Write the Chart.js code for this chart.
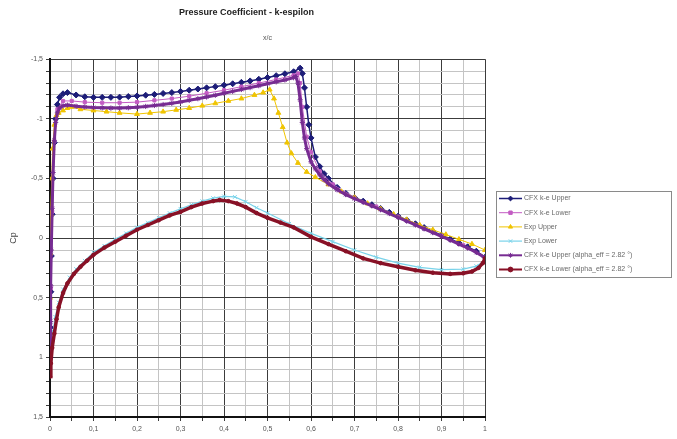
<!DOCTYPE html>
<html lang="en">
<head>
    <meta charset="UTF-8">
    <title>Pressure Coefficient - k-espilon</title>
    <script src="https://cdn.jsdelivr.net/npm/chart.js"></script>
    <style>
        body {
            margin: 0;
            background: #fff;
        }

        .chart-box {
            width: 677px;
            height: 439px;
        }
    </style>
</head>
<body>
<div class="chart-box">
    <canvas id="cpChart"></canvas>
</div>

<script>
    // Подписи серий
    const seriesLabels = [
        'CFX k-e Upper',
        'CFX k-e Lower',
        'Exp Upper',
        'Exp Lower',
        'CFX k-e Upper (alpha_eff = 2.82 °)',
        'CFX k-e Lower (alpha_eff = 2.82 °)'
    ];

    // Подписи осей
    const xTickValues = [0, 0.1, 0.2, 0.3, 0.4, 0.5, 0.6, 0.7, 0.8, 0.9, 1];
    const xTickLabels = ['0', '0,1', '0,2', '0,3', '0,4', '0,5', '0,6', '0,7', '0,8', '0,9', '1'];
    const yTickValues = [-1.5, -1, -0.5, 0, 0.5, 1, 1.5];
    const yTickLabels = ['-1,5', '-1', '-0,5', '0', '0,5', '1', '1,5'];

    // CFX k-e Upper
    const xKeUpper = [0, 0.001, 0.002, 0.003, 0.005, 0.007, 0.01, 0.013, 0.017, 0.022, 0.03, 0.04, 0.06, 0.08, 0.1,
        0.12, 0.14, 0.16, 0.18, 0.2, 0.22, 0.24, 0.26, 0.28, 0.3, 0.32, 0.34, 0.36, 0.38, 0.4, 0.42, 0.44, 0.46, 0.48, 0.5,
        0.52, 0.54, 0.56, 0.575, 0.58, 0.585, 0.59, 0.595, 0.6, 0.61, 0.62, 0.63, 0.64, 0.66, 0.68, 0.7, 0.72, 0.74, 0.76,
        0.78, 0.8, 0.82, 0.84, 0.86, 0.88, 0.9, 0.92, 0.94, 0.96, 0.98, 1.0];
    const cpKeUpper = [1.0, 0.75, 0.45, 0.15, -0.2, -0.5, -0.8, -1.0, -1.12, -1.18, -1.21, -1.22, -1.2, -1.185, -1.18,
        -1.18, -1.18, -1.182, -1.187, -1.192, -1.198, -1.205, -1.213, -1.22, -1.23, -1.24, -1.25, -1.26, -1.27, -1.282,
        -1.294, -1.306, -1.318, -1.332, -1.346, -1.362, -1.378, -1.395, -1.425, -1.38, -1.26, -1.1, -0.95, -0.84, -0.68,
        -0.6, -0.54, -0.5, -0.425, -0.375, -0.34, -0.31, -0.28, -0.248, -0.216, -0.184, -0.152, -0.12, -0.088, -0.056,
        -0.024, 0.008, 0.04, 0.073, 0.11, 0.16];

    // CFX k-e Lower
    const xKeLower = [0, 0.002, 0.005, 0.01, 0.017, 0.03, 0.05, 0.08, 0.12, 0.16, 0.2, 0.24, 0.28, 0.32, 0.36, 0.4,
        0.44, 0.48, 0.52, 0.56, 0.57, 0.575, 0.58, 0.59, 0.6, 0.62, 0.65, 0.7, 0.75, 0.8, 0.85, 0.9, 0.95, 1.0];
    const cpKeLower = [1.0, 0.42, -0.22, -0.81, -1.08, -1.15, -1.15, -1.14, -1.135, -1.135, -1.14, -1.155, -1.17, -1.19,
        -1.215, -1.24, -1.27, -1.3, -1.33, -1.365, -1.38, -1.3, -1.1, -0.85, -0.72, -0.56, -0.45, -0.34, -0.265, -0.18,
        -0.1, -0.02, 0.06, 0.165];

    // Exp Upper
    const xExpUpper = [0, 0.001, 0.002, 0.004, 0.006, 0.01, 0.015, 0.02, 0.03, 0.04, 0.05, 0.07, 0.1, 0.13, 0.16, 0.2,
        0.23, 0.26, 0.29, 0.32, 0.35, 0.38, 0.41, 0.44, 0.47, 0.49, 0.505, 0.515, 0.525, 0.535, 0.545, 0.555, 0.57, 0.59,
        0.61, 0.64, 0.67, 0.7, 0.73, 0.76, 0.79, 0.82, 0.85, 0.88, 0.91, 0.94, 0.97, 1.0];
    const cpExpUpper = [0.5, 0.13, -0.2, -0.5, -0.75, -0.95, -1.03, -1.05, -1.07, -1.09, -1.1, -1.08, -1.07, -1.06,
        -1.05, -1.04, -1.05, -1.06, -1.075, -1.09, -1.11, -1.13, -1.15, -1.17, -1.2, -1.22, -1.245, -1.17, -1.05, -0.93,
        -0.8, -0.71, -0.63, -0.555, -0.51, -0.45, -0.39, -0.34, -0.29, -0.245, -0.2, -0.155, -0.11, -0.07, -0.03, 0.01,
        0.05, 0.1];

    // Exp Lower
    const xExpLower = [0, 0.003, 0.007, 0.012, 0.02, 0.03, 0.045, 0.06, 0.08, 0.1, 0.125, 0.15, 0.175, 0.2, 0.225, 0.25,
        0.275, 0.3, 0.325, 0.35, 0.375, 0.4, 0.425, 0.45, 0.475, 0.5, 0.55, 0.6, 0.65, 0.7, 0.75, 0.8, 0.85, 0.9, 0.95,
        0.98, 1.0];
    const cpExpLower = [1.05, 0.9, 0.78, 0.66, 0.54, 0.43, 0.33, 0.26, 0.19, 0.12, 0.065, 0.01, -0.04, -0.09, -0.13,
        -0.17, -0.21, -0.245, -0.28, -0.31, -0.335, -0.35, -0.345, -0.305, -0.255, -0.21, -0.12, -0.04, 0.03, 0.1, 0.16,
        0.21, 0.245, 0.265, 0.26, 0.235, 0.19];

    // CFX k-e Upper (alpha_eff = 2.82 °)
    const xAlphaUpper = [0, 0.001, 0.002, 0.003, 0.005, 0.007, 0.01, 0.013, 0.017, 0.022, 0.03, 0.04, 0.06, 0.08, 0.1,
        0.12, 0.14, 0.16, 0.18, 0.2, 0.22, 0.24, 0.26, 0.28, 0.3, 0.32, 0.34, 0.36, 0.38, 0.4, 0.42, 0.44, 0.46, 0.48, 0.5,
        0.52, 0.54, 0.56, 0.565, 0.57, 0.575, 0.58, 0.585, 0.59, 0.6, 0.61, 0.62, 0.63, 0.64, 0.66, 0.68, 0.7, 0.72, 0.74,
        0.76, 0.78, 0.8, 0.82, 0.84, 0.86, 0.88, 0.9, 0.92, 0.94, 0.96, 0.98, 1.0];
    const cpAlphaUpper = [1.0, 0.7, 0.4, 0.1, -0.25, -0.55, -0.82, -0.97, -1.05, -1.09, -1.11, -1.115, -1.105, -1.1,
        -1.095, -1.092, -1.09, -1.09, -1.093, -1.097, -1.104, -1.112, -1.12, -1.13, -1.142, -1.155, -1.169, -1.183, -1.198,
        -1.214, -1.23, -1.246, -1.262, -1.278, -1.294, -1.31, -1.326, -1.345, -1.355, -1.3, -1.16, -0.97, -0.84, -0.75,
        -0.64, -0.58, -0.53, -0.49, -0.455, -0.405, -0.365, -0.33, -0.3, -0.27, -0.238, -0.206, -0.174, -0.142, -0.11,
        -0.078, -0.046, -0.014, 0.018, 0.05, 0.083, 0.12, 0.165];

    // CFX k-e Lower (alpha_eff = 2.82 °)
    const xAlphaLower = [0, 0.002, 0.005, 0.01, 0.015, 0.02, 0.03, 0.04, 0.055, 0.07, 0.085, 0.1, 0.125, 0.15, 0.175,
        0.2, 0.225, 0.25, 0.275, 0.3, 0.325, 0.35, 0.375, 0.39, 0.41, 0.43, 0.45, 0.475, 0.5, 0.53, 0.56, 0.6, 0.64, 0.68,
        0.72, 0.76, 0.8, 0.84, 0.88, 0.92, 0.95, 0.97, 0.985, 0.995, 1.0];
    const cpAlphaLower = [1.16, 1.05, 0.92, 0.8, 0.68, 0.58, 0.46, 0.38, 0.3, 0.24, 0.19, 0.14, 0.08, 0.03, -0.02,
        -0.07, -0.11, -0.15, -0.19, -0.22, -0.26, -0.29, -0.31, -0.32, -0.31, -0.29, -0.26, -0.21, -0.17, -0.13, -0.09,
        -0.01, 0.05, 0.11, 0.17, 0.21, 0.24, 0.27, 0.29, 0.3, 0.295, 0.28, 0.25, 0.21, 0.17];

    const FONT = "'Liberation Sans', Arial, sans-serif";

    function toPoints(xs, ys) {
        return xs.map((x, i) => ({x: x, y: ys[i]}));
    }

    // поиск подписи для значения тика
    function tickLabel(values, labels, v) {
        for (let i = 0; i < values.length; i++) {
            if (Math.abs(values[i] - v) < 1e-6) return labels[i];
        }
        return '';
    }

    function isMajor(values, v) {
        return tickLabel(values, values.map(String), v) !== '';
    }

    // стиль каждой серии: цвет, маркер, толщина линии
    const styles = [
        {color: '#1d1d78', point: 'rectRot', radius: 3.0, width: 1.5, order: 5},
        {color: '#c35cc3', point: 'rect', radius: 2.2, width: 1.0, order: 4},
        {color: '#f0c400', point: 'triangle', radius: 2.8, width: 1.0, order: 3},
        {color: '#79d3ea', point: 'crossRot', radius: 2.6, width: 1.2, order: 2},
        {color: '#772c92', point: 'star', radius: 2.6, width: 3.0, order: 1},
        {color: '#881126', point: 'circle', radius: 1.8, width: 3.5, order: 0}
    ];

    const seriesData = [
        toPoints(xKeUpper, cpKeUpper),
        toPoints(xKeLower, cpKeLower),
        toPoints(xExpUpper, cpExpUpper),
        toPoints(xExpLower, cpExpLower),
        toPoints(xAlphaUpper, cpAlphaUpper),
        toPoints(xAlphaLower, cpAlphaLower)
    ];

    const datasets = seriesLabels.map((label, i) => ({
        label: label,
        data: seriesData[i],
        showLine: true,
        tension: 0,
        borderColor: styles[i].color,
        backgroundColor: styles[i].color,
        borderWidth: styles[i].width,
        pointStyle: styles[i].point,
        pointRadius: styles[i].radius,
        pointBorderWidth: 1,
        pointBorderColor: styles[i].color,
        pointBackgroundColor: styles[i].color,
        order: styles[i].order
    }));

    // Легенда в рамке справа, как в Excel
    const boxLegend = {
        id: 'boxLegend',
        afterDraw(chart) {
            const ctx = chart.ctx;
            const left = 496, top = 191, w = 175, h = 86;
            ctx.save();
            ctx.fillStyle = '#fff';
            ctx.fillRect(left, top, w, h);
            ctx.strokeStyle = '#8a8a8a';
            ctx.lineWidth = 1;
            ctx.strokeRect(left + 0.5, top + 0.5, w, h);
            ctx.font = '7px ' + FONT;
            ctx.textBaseline = 'middle';
            seriesLabels.forEach((label, i) => {
                const y = top + 7.5 + i * 14.2;
                const st = styles[i];
                ctx.strokeStyle = st.color;
                ctx.lineWidth = Math.min(st.width, 2);
                ctx.beginPath();
                ctx.moveTo(left + 3, y);
                ctx.lineTo(left + 26, y);
                ctx.stroke();
                ctx.fillStyle = st.color;
                ctx.lineWidth = 1;
                Chart.helpers.drawPoint(ctx, {pointStyle: st.point, radius: 2.4, rotation: 0, borderWidth: 1}, left + 14.5, y);
                ctx.fillStyle = '#6a6a6a';
                ctx.fillText(label, left + 28, y);
            });
            ctx.restore();
        }
    };

    const chart = new Chart(document.getElementById('cpChart').getContext('2d'), {
        type: 'scatter',
        data: {datasets: datasets},
        options: {
            responsive: true,
            maintainAspectRatio: false,
            animation: false,
            layout: {
                padding: {left: 8, right: 192, top: 0, bottom: 0}
            },
            plugins: {
                legend: {display: false},
                tooltip: {enabled: false},
                title: {
                    display: true,
                    text: 'Pressure Coefficient - k-espilon',
                    color: '#222',
                    font: {family: FONT, size: 9, weight: 'bold'},
                    padding: {top: 7, bottom: 9}
                },
                subtitle: {
                    display: true,
                    text: 'x/c',
                    fullSize: false,
                    color: '#555',
                    font: {family: FONT, size: 7},
                    padding: {top: 7, bottom: 17}
                }
            },
            scales: {
                x: {
                    type: 'linear',
                    min: 0,
                    max: 1,
                    afterFit(scale) {
                        scale.height = 22;
                    },
                    border: {display: true, color: '#111', width: 2},
                    grid: {
                        color: ctx => isMajor(xTickValues, ctx.tick.value) ? '#3c3c3c' : '#c4c4c4',
                        tickColor: '#3c3c3c',
                        lineWidth: 1,
                        tickLength: 4
                    },
                    ticks: {
                        stepSize: 0.05,
                        autoSkip: false,
                        maxRotation: 0,
                        color: '#555',
                        padding: 4,
                        font: {family: FONT, size: 7},
                        callback: v => tickLabel(xTickValues, xTickLabels, v)
                    }
                },
                y: {
                    type: 'linear',
                    min: -1.5,
                    max: 1.5,
                    reverse: true,
                    afterFit(scale) {
                        scale.width = 42;
                    },
                    border: {display: true, color: '#111', width: 2},
                    title: {
                        display: true,
                        text: 'Cp',
                        color: '#444',
                        font: {family: FONT, size: 9},
                        padding: {top: 0, bottom: 0}
                    },
                    grid: {
                        color: ctx => isMajor(yTickValues, ctx.tick.value) ? '#3c3c3c' : '#c4c4c4',
                        tickColor: '#3c3c3c',
                        lineWidth: 1,
                        tickLength: 4
                    },
                    ticks: {
                        stepSize: 0.1,
                        autoSkip: false,
                        color: '#555',
                        padding: 3,
                        font: {family: FONT, size: 7},
                        callback: v => tickLabel(yTickValues, yTickLabels, v)
                    }
                }
            }
        },
        plugins: [boxLegend]
    });
</script>
</body>
</html>
